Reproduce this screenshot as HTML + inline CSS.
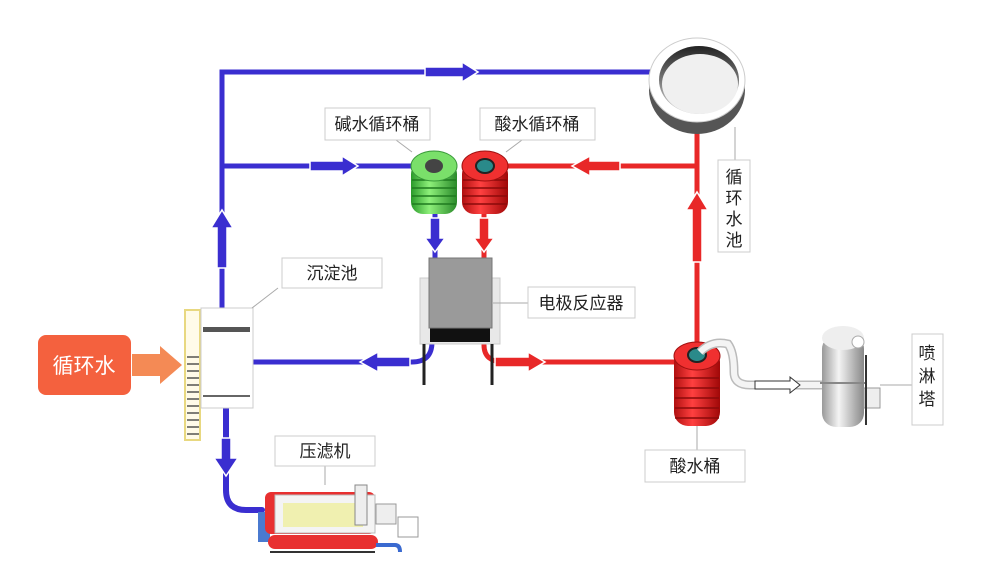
<!DOCTYPE html>
<html><head><meta charset="utf-8"><style>
html,body{margin:0;padding:0;background:#fff;}
svg{display:block;font-family:"Liberation Sans","Noto Sans CJK SC",sans-serif;}
</style></head><body>
<svg width="1005" height="580" viewBox="0 0 1005 580" xmlns="http://www.w3.org/2000/svg">
<defs>
<linearGradient id="gr" x1="0" x2="1"><stop offset="0" stop-color="#b01010"/><stop offset=".4" stop-color="#ff4040"/><stop offset="1" stop-color="#a00808"/></linearGradient>
<linearGradient id="gg" x1="0" x2="1"><stop offset="0" stop-color="#2a9a2a"/><stop offset=".4" stop-color="#8ef07a"/><stop offset="1" stop-color="#2a8a2a"/></linearGradient>
<linearGradient id="gs" x1="0" x2="1"><stop offset="0" stop-color="#999"/><stop offset=".4" stop-color="#f4f4f4"/><stop offset="1" stop-color="#888"/></linearGradient>
<linearGradient id="gp" x1="0" x2="0" y1="0" y2="1"><stop offset="0" stop-color="#222"/><stop offset=".5" stop-color="#777"/><stop offset="1" stop-color="#ddd"/></linearGradient>
</defs>
<rect width="1005" height="580" fill="#fff"/>
<g fill="none" stroke-linecap="round">
<path d="M222 310 V72 H652" stroke="#3a2ed0" stroke-width="5"/>
<path d="M222 166 H430" stroke="#3a2ed0" stroke-width="5"/>
<path d="M435 212 V258" stroke="#3a2ed0" stroke-width="5"/>
<path d="M252 362 H412 Q432 362 432 342 V330" stroke="#3a2ed0" stroke-width="5"/>
<path d="M226 405 V490 Q226 510 246 510 H262" stroke="#3a2ed0" stroke-width="6"/>
<path d="M500 166 H697" stroke="#e82828" stroke-width="5"/>
<path d="M697 133 V350" stroke="#e82828" stroke-width="5"/>
<path d="M484 212 V258" stroke="#e82828" stroke-width="5"/>
<path d="M484 330 V345 Q484 362 504 362 H680" stroke="#e82828" stroke-width="5"/>
</g>
<g stroke="#fff" stroke-width="1.5">
<path d="M425 67 H462 V62 L478 72 L462 82 V77 H425Z" fill="#3a2ed0"/>
<path d="M310 161 H342 V156 L358 166 L342 176 V171 H310Z" fill="#3a2ed0"/>
<path d="M217 268 V228 H211 L222 210 L233 228 H227 V268Z" fill="#3a2ed0"/>
<path d="M430 218 V238 H425 L435 252 L445 238 H440 V218Z" fill="#3a2ed0"/>
<path d="M410 357 H378 V352 L360 362 L378 372 V367 H410Z" fill="#3a2ed0"/>
<path d="M221 438 V458 H214 L226 476 L238 458 H231 V438Z" fill="#3a2ed0"/>
<path d="M479 218 V238 H474 L484 252 L494 238 H489 V218Z" fill="#e82828"/>
<path d="M620 161 H590 V156 L572 166 L590 176 V171 H620Z" fill="#e82828"/>
<path d="M692 262 V210 H686 L697 192 L708 210 H702 V262Z" fill="#e82828"/>
<path d="M495 357 H528 V352 L545 362 L528 372 V367 H495Z" fill="#e82828"/>
</g>
<!-- circulation pool -->
<ellipse cx="697" cy="90" rx="48" ry="44" fill="#555"/>
<ellipse cx="697" cy="80" rx="48" ry="42" fill="#fff" stroke="#ccc"/>
<ellipse cx="699" cy="80" rx="40" ry="34" fill="url(#gp)"/>
<ellipse cx="700" cy="84" rx="38" ry="30" fill="#f0f0f0"/>
<!-- green tank -->
<rect x="411" y="162" width="46" height="52" rx="12" fill="url(#gg)"/>
<g stroke="#1f7a1f" stroke-width="1.5"><path d="M412 180H456M412 188H456M412 196H456M412 204H456"/></g>
<ellipse cx="434" cy="166" rx="23" ry="15" fill="#7ae06a" stroke="#3a9a3a"/>
<ellipse cx="434" cy="166" rx="9" ry="7" fill="#444"/>
<rect x="462" y="162" width="46" height="52" rx="12" fill="url(#gr)"/>
<g stroke="#8a0a0a" stroke-width="1.5"><path d="M463 180H507M463 188H507M463 196H507M463 204H507"/></g>
<ellipse cx="485" cy="166" rx="23" ry="15" fill="#f03030" stroke="#a01010"/>
<ellipse cx="485" cy="166" rx="9" ry="7" fill="#2a8a8a" stroke="#222" stroke-width="2"/>
<rect x="420" y="278" width="80" height="66" fill="#e8e8e8" stroke="#ccc"/>
<rect x="430" y="328" width="60" height="14" fill="#111"/>
<rect x="429" y="258" width="63" height="70" fill="#9a9a9a" stroke="#777"/>
<path d="M424 344V385M492 344V385" stroke="#222" stroke-width="3"/>
<rect x="185" y="310" width="15" height="130" fill="#fffbe8" stroke="#e8d880" stroke-width="2"/>
<g stroke="#333" stroke-width="1.2"><path d="M187 357H199M187 364H199M187 371H199M187 378H199M187 385H199M187 392H199M187 399H199M187 406H199M187 413H199M187 420H199M187 427H199M187 434H199"/></g>
<rect x="201" y="308" width="52" height="100" fill="#fff" stroke="#ccc"/>
<rect x="203" y="327" width="47" height="5" fill="#555"/>
<rect x="203" y="395" width="47" height="2" fill="#666"/>
<rect x="38" y="335" width="93" height="60" rx="8" fill="#f4613e"/>
<text x="84" y="373" font-size="21" fill="#fff" text-anchor="middle">循环水</text>
<path d="M132 354H160V346L182 365L160 384V376H132Z" fill="#f48a55"/>
<rect x="674" y="348" width="46" height="78" rx="14" fill="url(#gr)"/>
<g stroke="#8a0a0a" stroke-width="1.5"><path d="M675 378H719M675 388H719M675 398H719M675 408H719M675 418H719"/></g>
<ellipse cx="697" cy="356" rx="23" ry="14" fill="#f03030" stroke="#a01010"/>
<ellipse cx="697" cy="355" rx="9" ry="7" fill="#2a8a8a" stroke="#222" stroke-width="2"/>
<path d="M700 352 Q712 340 728 344 Q734 352 734 372 Q734 385 750 385 H822" fill="none" stroke="#bbb" stroke-width="9"/>
<path d="M700 352 Q712 340 728 344 Q734 352 734 372 Q734 385 750 385 H822" fill="none" stroke="#f4f4f4" stroke-width="6"/>
<path d="M755 381H790V377L800 385L790 393V389H755Z" fill="#fff" stroke="#333"/>
<rect x="822" y="335" width="42" height="92" rx="14" fill="url(#gs)"/>
<ellipse cx="843" cy="338" rx="21" ry="12" fill="#eee"/>
<circle cx="858" cy="342" r="6" fill="#fff" stroke="#aaa"/>
<path d="M820 383H866" stroke="#888" stroke-width="2"/>
<rect x="864" y="388" width="16" height="20" fill="#eee" stroke="#999"/>
<path d="M866 355V425" stroke="#333" stroke-width="2"/>
<rect x="258" y="512" width="12" height="30" fill="#4a7ad0"/>
<rect x="265" y="492" width="110" height="42" rx="6" fill="#e83030"/>
<rect x="268" y="535" width="110" height="14" rx="7" fill="#e83030"/>
<rect x="275" y="495" width="100" height="38" fill="#f4f4f4" stroke="#bbb"/>
<rect x="283" y="503" width="80" height="24" fill="#f0f0b0"/>
<rect x="355" y="485" width="12" height="40" fill="#eee" stroke="#888"/>
<rect x="376" y="504" width="20" height="20" fill="#eee" stroke="#999"/>
<rect x="398" y="517" width="20" height="20" fill="#fff" stroke="#999"/>
<path d="M376 545H395Q400 545 400 552" fill="none" stroke="#3a6ad0" stroke-width="4"/>
<path d="M270 552H375" stroke="#333" stroke-width="2"/>
<g stroke="#aaa" fill="none" stroke-width="1">
<path d="M396 140L412 152M522 140L506 152M278 288L252 308M493 303H528M735 127V160M697 426V450M880 385H912M325 466V485"/>
</g>
<g fill="#fff" stroke="#ccc">
<rect x="325" y="108" width="105" height="32"/>
<rect x="480" y="108" width="115" height="32"/>
<rect x="282" y="258" width="100" height="30"/>
<rect x="528" y="287" width="107" height="31"/>
<rect x="718" y="160" width="32" height="92"/>
<rect x="912" y="334" width="31" height="91"/>
<rect x="645" y="450" width="100" height="32"/>
<rect x="275" y="436" width="100" height="30"/>
</g>
<g font-size="17" fill="#222" text-anchor="middle">
<text x="377" y="130">碱水循环桶</text>
<text x="537" y="130">酸水循环桶</text>
<text x="332" y="279">沉淀池</text>
<text x="581" y="309">电极反应器</text>
<text x="695" y="472">酸水桶</text>
<text x="325" y="457">压滤机</text>
<text x="734" y="183">循</text><text x="734" y="204">环</text><text x="734" y="225">水</text><text x="734" y="246">池</text>
<text x="927" y="359">喷</text><text x="927" y="382">淋</text><text x="927" y="405">塔</text>
</g>
</svg>
</body></html>
